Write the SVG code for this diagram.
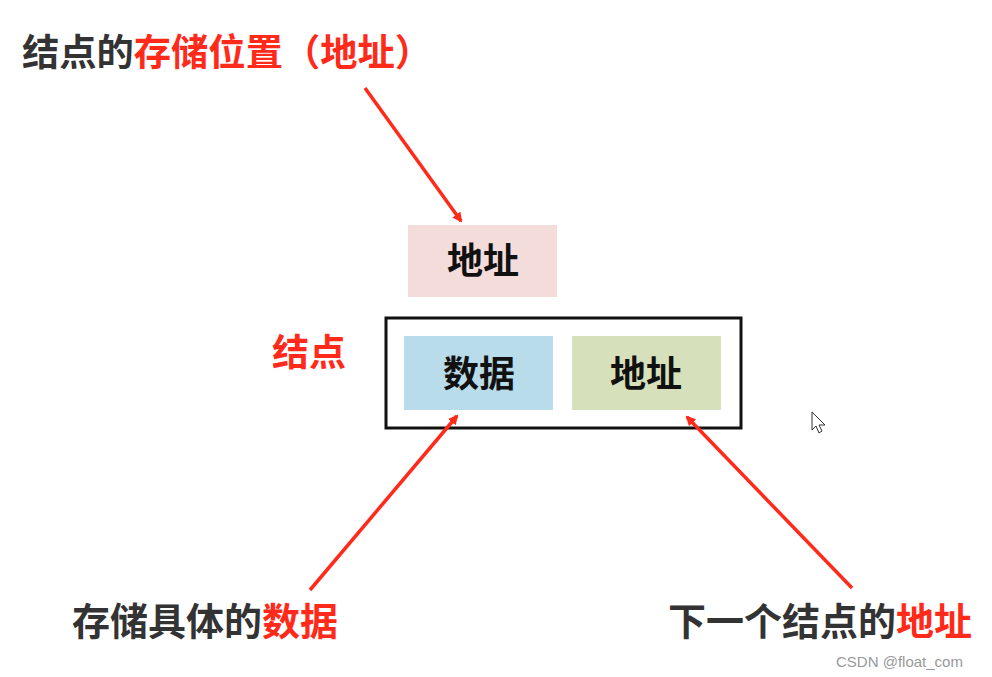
<svg xmlns="http://www.w3.org/2000/svg" width="992" height="677" viewBox="0 0 992 677">
<style>
.t{font-family:"Noto Sans CJK SC","Liberation Sans",sans-serif;font-weight:bold}
.d{fill:#333}
.r{fill:#ff2a1a}
.c{stroke:#ff2a1a;stroke-width:3.5;fill:none}
</style>
<defs>
<marker id="ah" markerWidth="10" markerHeight="10" refX="8" refY="5" orient="auto" markerUnits="userSpaceOnUse" viewBox="0 0 10 10">
<path d="M0,0 L10,5 L0,10 Z" fill="#ff2a1a"/>
</marker>
</defs>
<rect width="992" height="677" fill="#fff"/>
<g id="title"><text class="t" x="22" y="66" font-size="37" textLength="410" lengthAdjust="spacingAndGlyphs"><tspan class="d">结点的</tspan><tspan class="r">存储位置（地址）</tspan></text></g>
<g id="addrTop"><rect x="408" y="225" width="149" height="72" fill="#f4dcdb"/><text class="t" x="483" y="274" font-size="36" text-anchor="middle" fill="#111">地址</text></g>
<g id="node"><rect x="386" y="318" width="355" height="110" fill="none" stroke="#111" stroke-width="3"/></g>
<g id="nodeLabel"><text class="t r" x="272" y="366" font-size="37">结点</text></g>
<g id="data"><rect x="404" y="336" width="149" height="74" fill="#b8dcea"/><text class="t" x="479" y="387" font-size="36" text-anchor="middle" fill="#111">数据</text></g>
<g id="next"><rect x="572" y="336" width="149" height="74" fill="#d6e0bb"/><text class="t" x="646" y="387" font-size="36" text-anchor="middle" fill="#111">地址</text></g>
<g id="labelData"><text class="t" x="72" y="635" font-size="38"><tspan class="d">存储具体的</tspan><tspan class="r">数据</tspan></text></g>
<g id="labelNext"><text class="t" x="668" y="635" font-size="38"><tspan class="d">下一个结点的</tspan><tspan class="r">地址</tspan></text></g>
<g id="connectors">
<line class="c" x1="365" y1="88" x2="461" y2="221" marker-end="url(#ah)"/>
<line class="c" x1="310" y1="590" x2="457" y2="416" marker-end="url(#ah)"/>
<line class="c" x1="852" y1="588" x2="687" y2="417" marker-end="url(#ah)"/>
</g>
<path d="M812,412 L812,430 L816,426 L819,433 L822,431 L819,425 L825,425 Z" fill="#fff" stroke="#333" stroke-width="1"/>
<text x="836" y="667" font-family="Liberation Sans,sans-serif" font-size="15" fill="#999">CSDN @float_com</text>
</svg>
